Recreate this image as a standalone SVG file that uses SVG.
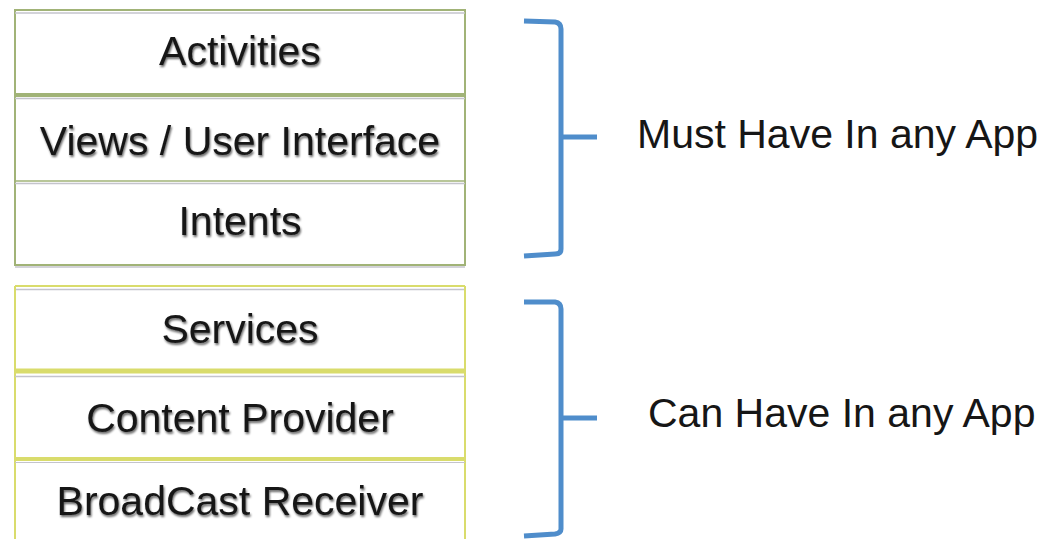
<svg xmlns="http://www.w3.org/2000/svg" width="1060" height="539" viewBox="0 0 1060 539">
  <style>
    .label { font-family: "Liberation Sans", Arial, sans-serif; font-size: 41px; fill: #161616; text-anchor: middle; }
    .note { font-family: "Liberation Sans", Arial, sans-serif; font-size: 41px; fill: #161616; }
    .green { stroke: #a1b377; fill: none; }
    .yellow { stroke: #d9dc6c; fill: none; }
    .shade { stroke: #c4c4cc; fill: none; }
    .brace { stroke: #4f8dcb; stroke-width: 5; fill: none; stroke-linecap: butt; stroke-linejoin: round; }
  </style>
  <defs>
    <filter id="soft" x="-5%" y="-20%" width="110%" height="140%">
      <feGaussianBlur in="SourceAlpha" stdDeviation="1.2"/>
      <feOffset dx="1" dy="1.5" result="b"/>
      <feComponentTransfer><feFuncA type="linear" slope="0.6"/></feComponentTransfer>
      <feMerge><feMergeNode/><feMergeNode in="SourceGraphic"/></feMerge>
    </filter>
  </defs>
  <rect width="1060" height="539" fill="#ffffff"/>

  <!-- required components stack -->
  <g id="must-stack">
    <rect x="15" y="10" width="450" height="255" class="green" stroke-width="2"/>
    <line x1="15" y1="13" x2="465" y2="13" class="shade" stroke-width="1.5"/>
    <line x1="15" y1="95" x2="465" y2="95" class="green" stroke-width="4"/>
    <line x1="15" y1="98.5" x2="465" y2="98.5" class="shade" stroke-width="1.5"/>
    <line x1="15" y1="181" x2="465" y2="181" class="green" stroke-width="1.5"/>
    <line x1="15" y1="183.5" x2="465" y2="183.5" class="shade" stroke-width="1.5"/>
    <line x1="15" y1="267" x2="465" y2="267" class="shade" stroke-width="1.5"/>
  </g>
  <g id="activities">
    <text x="240" y="65" class="label" filter="url(#soft)">Activities</text>
  </g>
  <g id="views">
    <text x="240" y="155" class="label" filter="url(#soft)">Views / User Interface</text>
  </g>
  <g id="intents">
    <text x="240" y="235" class="label" filter="url(#soft)">Intents</text>
  </g>

  <!-- optional components stack -->
  <g id="can-stack">
    <line x1="15" y1="286" x2="465" y2="286" class="yellow" stroke-width="2"/>
    <line x1="15" y1="289.5" x2="465" y2="289.5" class="shade" stroke-width="1.5"/>
    <line x1="15" y1="286" x2="15" y2="539" class="yellow" stroke-width="2"/>
    <line x1="465" y1="286" x2="465" y2="539" class="yellow" stroke-width="2"/>
    <line x1="15" y1="371" x2="465" y2="371" class="yellow" stroke-width="5"/>
    <line x1="15" y1="376.5" x2="465" y2="376.5" class="shade" stroke-width="1.5"/>
    <line x1="15" y1="459" x2="465" y2="459" class="yellow" stroke-width="4"/>
    <line x1="15" y1="462.5" x2="465" y2="462.5" class="shade" stroke-width="1"/>
  </g>
  <g id="services">
    <text x="240" y="343" class="label" filter="url(#soft)">Services</text>
  </g>
  <g id="content-provider">
    <text x="240" y="432" class="label" filter="url(#soft)">Content Provider</text>
  </g>
  <g id="broadcast-receiver">
    <text x="240" y="515" class="label" filter="url(#soft)">BroadCast Receiver</text>
  </g>

  <!-- braces -->
  <g id="connectors">
    <path class="brace" d="M524,21 L555,22 Q561,23 561,29 L561,249 Q561,254 555,254 L524,256"/>
    <path class="brace" d="M561,137 L597,137"/>
    <path class="brace" d="M524,302 L555,302 Q561,303 561,309 L561,529 Q561,533 555,534 L524,536"/>
    <path class="brace" d="M561,418 L597,418"/>
  </g>

  <g id="must-note">
    <text x="637" y="148" class="note">Must Have In any App</text>
  </g>
  <g id="can-note">
    <text x="648" y="427" class="note">Can Have In any App</text>
  </g>
</svg>
